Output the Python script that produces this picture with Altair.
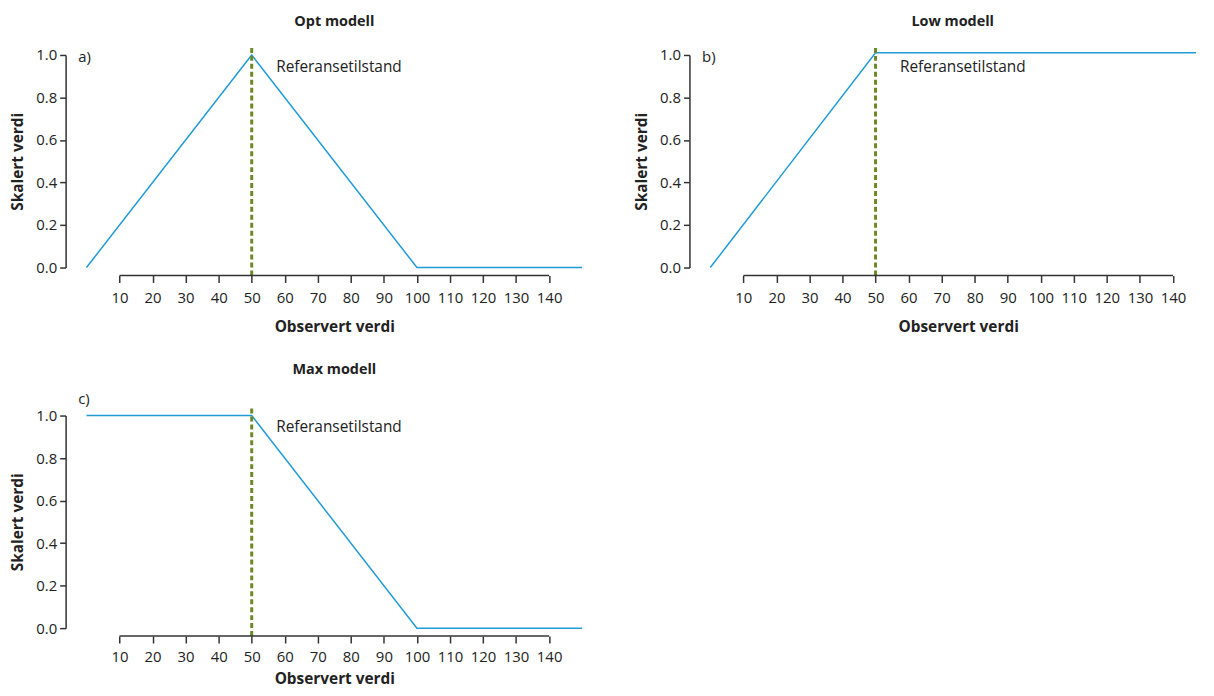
import altair as alt
import pandas as pd

# ---- data ----
titles = ["Opt modell", "Low modell", "Max modell"]
panel_labels = ["a)", "b)", "c)"]
label_y = [0.99, 0.99, 1.08]

opt_x = [0, 50, 100, 150]
opt_y = [0.0, 1.0, 0.0, 0.0]
low_x = [0, 50, 147]
low_y = [0.0, 1.01, 1.01]
max_x = [0, 50, 100, 150]
max_y = [1.0, 1.0, 0.0, 0.0]

ref_x = 50
ref_y_range = [-0.037, 1.047]
ref_text = "Referansetilstand"
ref_text_pos = [57.4, 0.944]

x_ticks = [10, 20, 30, 40, 50, 60, 70, 80, 90, 100, 110, 120, 130, 140]
y_ticks = [0.0, 0.2, 0.4, 0.6, 0.8, 1.0]
x_domain = [0, 150]
y_domain = [0, 1]

BLUE = "#1f9bd7"
OLIVE = "#6b8a24"
AXC = "#333333"
FONT = "Open Sans"
W, H = 499, 214


def panel(xs, ys, title, lab, laby, width=W, x_label_pad=8, x_title_pad=14):
    df = pd.DataFrame({"x": xs, "y": ys})
    xsc = alt.Scale(domain=x_domain, nice=False, zero=False, range=[0, W])
    ysc = alt.Scale(domain=y_domain, nice=False)
    xax = alt.Axis(values=x_ticks, domain=False, offset=8, tickSize=7, tickWidth=1.5,
                   tickColor=AXC, labelPadding=x_label_pad, titlePadding=x_title_pad,
                   grid=False, title="Observert verdi", labelFontSize=15,
                   titleFontSize=15.5, labelFlush=False, labelOverlap=False,
                   labelBound=False, labelSeparation=0)
    yax = alt.Axis(values=y_ticks, format=".1f", offset=21, tickSize=6, tickWidth=1.5,
                   tickColor=AXC, domainColor=AXC, domainWidth=1.5, labelPadding=3,
                   titlePadding=10, grid=False, title="Skalert verdi",
                   labelFontSize=15, titleFontSize=15.5)
    xenc = alt.X("x:Q", scale=xsc, axis=xax)
    yenc = alt.Y("y:Q", scale=ysc, axis=yax)
    line = alt.Chart(df).mark_line(color=BLUE, strokeWidth=1.5).encode(x=xenc, y=yenc)
    rdf = pd.DataFrame({"x": [ref_x], "y": [ref_y_range[0]], "y2": [ref_y_range[1]]})
    rule = alt.Chart(rdf).mark_rule(color=OLIVE, strokeWidth=3, strokeDash=[5, 3]).encode(
        x=xenc, y=yenc, y2="y2:Q")
    tdf = pd.DataFrame({"x": [ref_text_pos[0]], "y": [ref_text_pos[1]], "t": [ref_text]})
    txt = alt.Chart(tdf).mark_text(align="left", baseline="middle", fontSize=15.5,
                                   font=FONT, color="#222").encode(
        x=xenc, y=yenc, text="t:N")
    ldf = pd.DataFrame({"x": [-2.5], "y": [laby], "t": [lab]})
    ltxt = alt.Chart(ldf).mark_text(align="left", baseline="middle", fontSize=15,
                                    font=FONT, color="#222").encode(
        x=xenc, y=yenc, text="t:N")
    adf = pd.DataFrame({"x": [x_ticks[0]], "x2": [x_ticks[-1]]})
    axline = alt.Chart(adf).mark_rule(color=AXC, strokeWidth=1.5).encode(
        x=xenc, x2="x2:Q", y=alt.value(H + 8))
    return alt.layer(line, rule, txt, ltxt, axline).properties(
        width=width, height=H,
        title=alt.TitleParams(title, fontSize=14.5, fontWeight="bold", font=FONT,
                              offset=14, color="#222"),
    )


a = panel(opt_x, opt_y, titles[0], panel_labels[0], label_y[0])
b = panel(low_x, low_y, titles[1], panel_labels[1], label_y[1], width=488)
c = panel(max_x, max_y, titles[2], panel_labels[2], label_y[2],
          x_label_pad=7, x_title_pad=7)

chart = alt.vconcat(
    alt.hconcat(a, b, spacing=49), c, spacing=27,
    background="white", padding={"left": 2, "top": 3, "right": 0, "bottom": 0},
).configure_view(
    strokeWidth=0, stroke="transparent"
).configure_axis(
    labelFont=FONT, titleFont=FONT, labelColor="#222", titleColor="#222",
    titleFontWeight="bold"
).configure_axisX(labelOverlap=False)

chart.save("out.html", embed_options={"renderer": "svg", "actions": False})
